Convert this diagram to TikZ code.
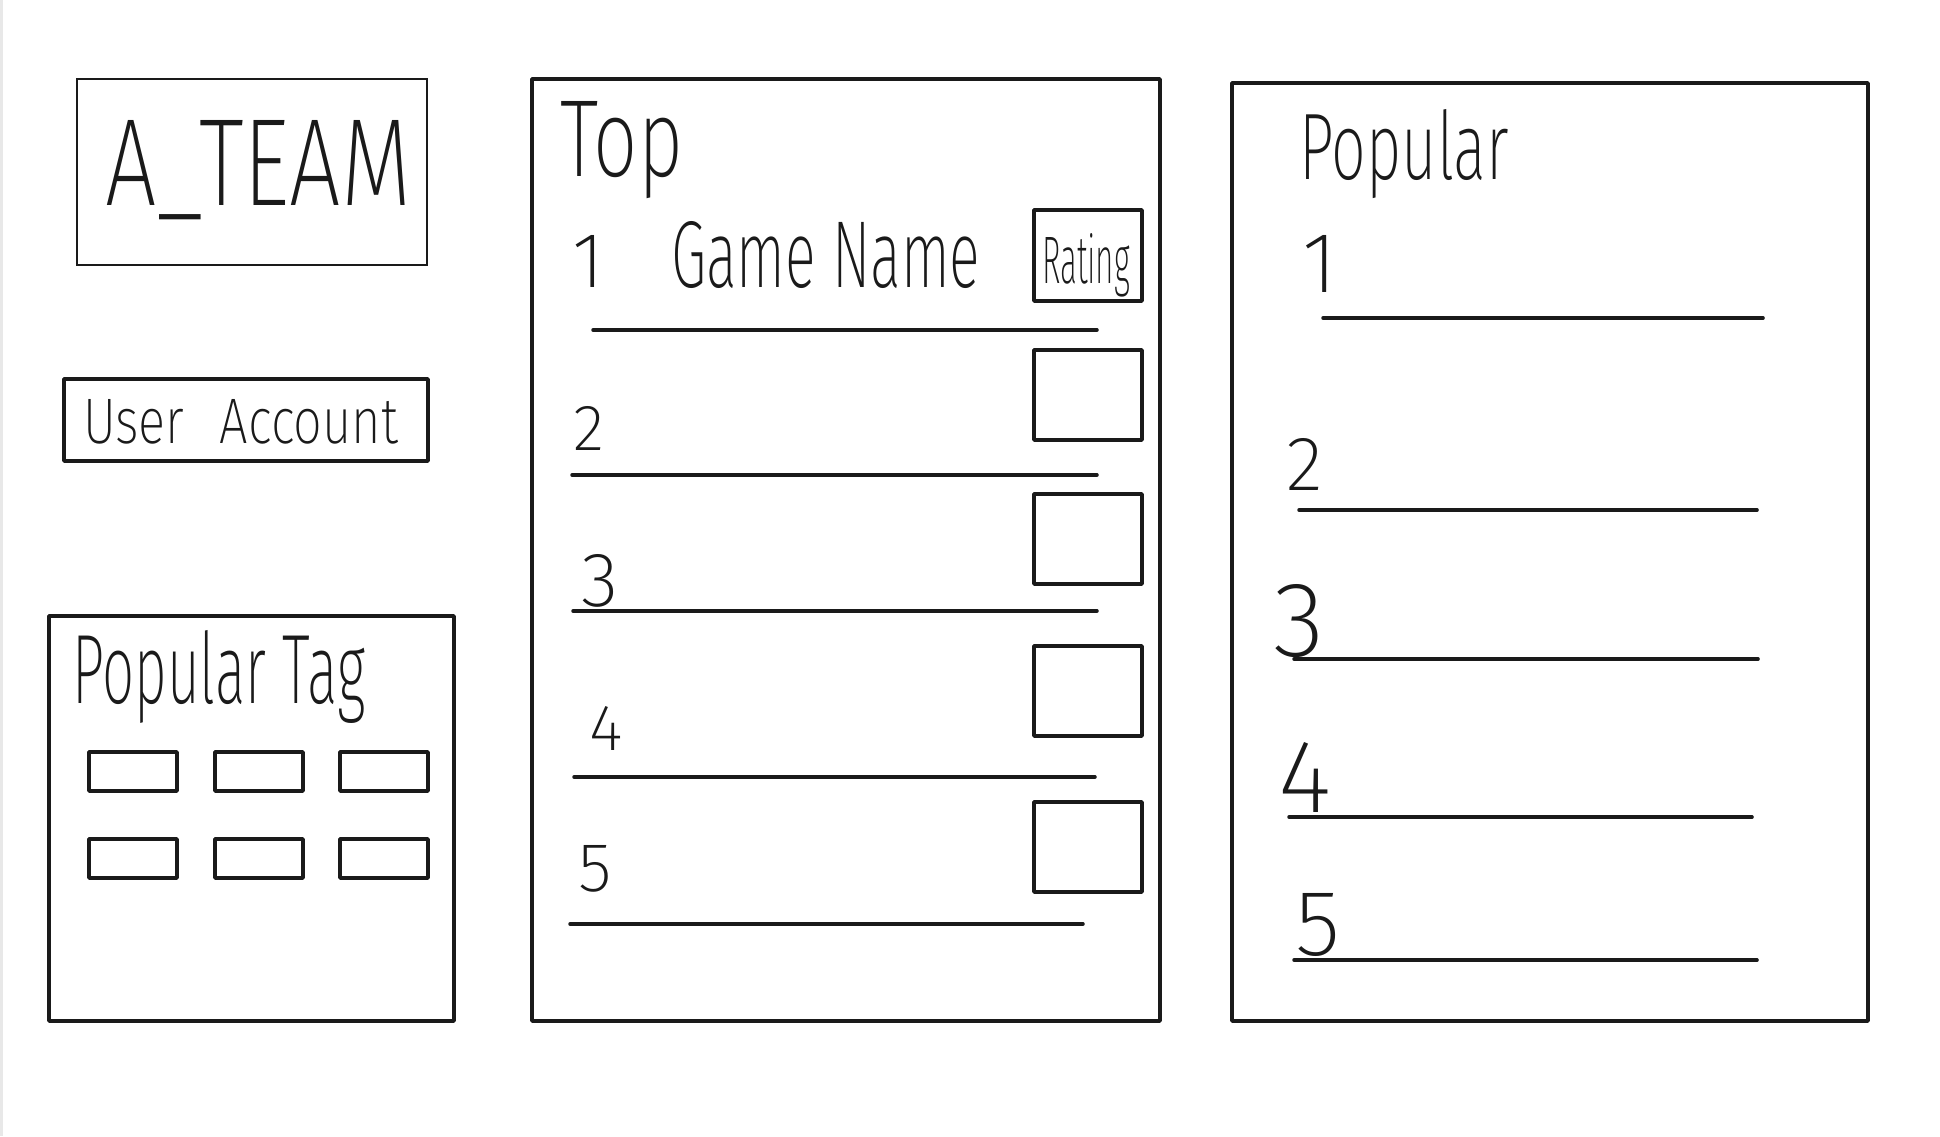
\documentclass[tikz,border=0pt]{standalone}
\usepackage{fontspec}
\usepackage{graphicx}
\setmainfont{Fira Sans ExtraLight}
\definecolor{inkc}{HTML}{1A1A1A}
\tikzset{
  ink/.style={draw=inkc, line width=1pt, line cap=round, line join=round},
  thinink/.style={draw=inkc, line width=0.45pt},
  lbl/.style={inner sep=0pt, outer sep=0pt, text=inkc, anchor=base west},
  num/.style={inner sep=0pt, outer sep=0pt, text=inkc, anchor=base},
}
\newcommand\hw[3]{\resizebox{#1mm}{#2mm}{#3}}
\newcommand\hn[2]{\resizebox{!}{#1mm}{#2}}
\begin{document}
\begin{tikzpicture}[x=0.01cm,y=-0.01cm]
\fill[white] (0,0) rectangle (1940,1136);
\useasboundingbox (0,0) rectangle (1940,1136);
\fill[gray!18] (0,0) rectangle (3,1136);

% ---- left column ----
\draw[thinink] (77,79) rectangle (427,265);
\node[lbl] (ateam) at (105,205) {\hw{30.6}{8.5}{A\_TEAM}};

\draw[ink] (64,379) rectangle (428,461);
\node[lbl] (user) at (83,443) {\hw{31.5}{4.4}{User\hspace{0.7em}Account}};

\draw[ink] (49,616) rectangle (454,1021);
\node[lbl] (ptag) at (72,703) {\hw{29.3}{7.3}{Popular Tag}};
\foreach \y in {752,839}{
  \foreach \x in {89,215,340}{
    \draw[ink] (\x,\y) rectangle ++(88,39);
  }
}

% ---- Top column ----
\draw[ink] (532,79) rectangle (1160,1021);
\node[lbl] (top) at (560,176) {\hw{12.3}{7.5}{Top}};
\node[num] (t1) at (588,287) {\hn{5.2}{1}};
\node[lbl] (gname) at (671,287) {\hw{30.9}{6.6}{Game Name}};
\draw[ink] (1034,210) rectangle (1142,301);
\node[lbl] (rating) at (1042,283) {\hw{8.8}{5.0}{Rating}};
\draw[ink] (593,330) -- (1097,330);

\draw[ink] (1034,350) rectangle (1142,440);
\node[num] (t2) at (589,450) {\hn{4.4}{2}};
\draw[ink] (572,475) -- (1097,475);

\draw[ink] (1034,494) rectangle (1142,584);
\node[num] (t3) at (600,606) {\hn{5.2}{3}};
\draw[ink] (573,611) -- (1097,611);

\draw[ink] (1034,646) rectangle (1142,736);
\node[num] (t4) at (606,750) {\hn{4.4}{4}};
\draw[ink] (574,777) -- (1095,777);

\draw[ink] (1034,802) rectangle (1142,892);
\node[num] (t5) at (595,891) {\hn{4.6}{5}};
\draw[ink] (570,924) -- (1083,924);

% ---- Popular column ----
\draw[ink] (1232,83) rectangle (1868,1021);
\node[lbl] (pop) at (1299,179) {\hw{21.0}{7.0}{Popular}};
\node[num] (p1) at (1320,292) {\hn{5.7}{1}};
\draw[ink] (1323,318) -- (1763,318);
\node[num] (p2) at (1305,490) {\hn{5.2}{2}};
\draw[ink] (1299,510) -- (1757,510);
\node[num] (p3) at (1299,656) {\hn{7.2}{3}};
\draw[ink] (1294,659) -- (1758,659);
\node[num] (p4) at (1305,812) {\hn{7.0}{4}};
\draw[ink] (1289,817) -- (1752,817);
\node[num] (p5) at (1318,955) {\hn{6.2}{5}};
\draw[ink] (1294,960) -- (1757,960);
\end{tikzpicture}
\end{document}
